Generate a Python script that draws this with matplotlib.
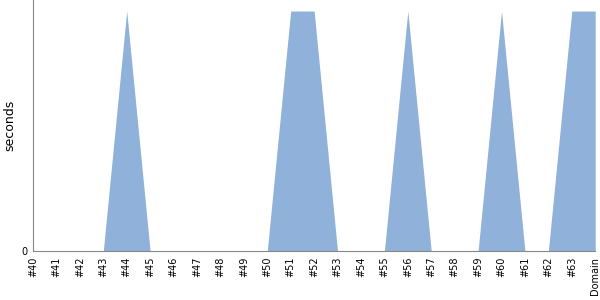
import matplotlib
matplotlib.use("Agg")
import matplotlib.pyplot as plt

labels = ["#40", "#41", "#42", "#43", "#44", "#45", "#46", "#47", "#48", "#49",
          "#50", "#51", "#52", "#53", "#54", "#55", "#56", "#57", "#58", "#59",
          "#60", "#61", "#62", "#63", "Domain"]
values = [0, 0, 0, 0, 1, 0, 0, 0, 0, 0,
          0, 1, 1, 0, 0, 0, 1, 0, 0, 0,
          1, 0, 0, 1, 1]

fig = plt.figure(figsize=(6, 3), dpi=100)
ax = fig.add_axes([0.055, 0.163, 0.937, 0.837])
x = list(range(len(labels)))
ax.fill_between(x, values, 0, color="#8fb1da", linewidth=0)
ax.set_xlim(0, len(labels) - 1)
ax.set_ylim(0, 1.046)
ax.set_yticks([0])
ax.set_yticklabels(["0"], fontsize=7)
ax.set_xticks(x)
ax.set_xticklabels(labels, rotation=90, fontsize=7)
ax.tick_params(axis="both", length=0, pad=4)
ax.set_ylabel("seconds", fontsize=9, va="center")
ax.yaxis.set_label_coords(-0.041, 0.5)
for s in ["top", "right"]:
    ax.spines[s].set_visible(False)
for s in ["left", "bottom"]:
    ax.spines[s].set_color("#888888")
fig.savefig("out.png", dpi=100)
